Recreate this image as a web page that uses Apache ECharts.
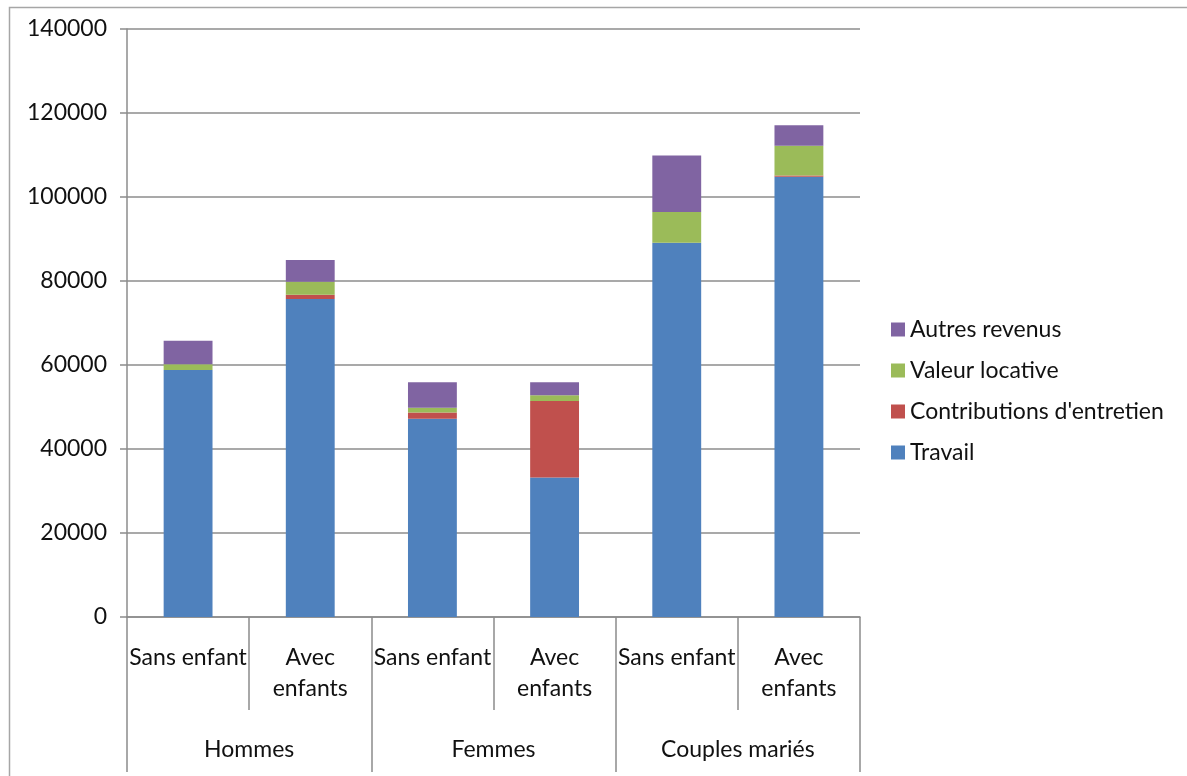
<!DOCTYPE html>
<html>
<head>
<meta charset="utf-8">
<script src="https://cdn.jsdelivr.net/npm/echarts@6/dist/echarts.min.js"></script>
<style>
html,body{margin:0;padding:0;background:#fff;}
#main{width:1187px;height:776px;}
</style>
</head>
<body>
<div id="main"></div>
<script>
const categories = ['Sans enfant', 'Avec\nenfants', 'Sans enfant', 'Avec\nenfants', 'Sans enfant', 'Avec\nenfants'];
const groups = ['Hommes', 'Femmes', 'Couples mariés'];
const travail = [58800, 75700, 47200, 33200, 89100, 104800];
const contributions = [0, 1000, 1500, 18200, 0, 300];
const valeurLocative = [1400, 3100, 1100, 1400, 7300, 7100];
const autresRevenus = [5600, 5200, 6100, 3100, 13500, 4900];
const seriesNames = ['Travail', "Contributions d'entretien", 'Valeur locative', 'Autres revenus'];
const legendOrder = ['Autres revenus', 'Valeur locative', "Contributions d'entretien", 'Travail'];
const colors = ['#4F81BD', '#C0504D', '#9BBB59', '#8064A2'];

const font = 'Lato, "Open Sans", sans-serif';
const gridColor = '#8c8c8c';
const textColor = '#111';
const chart = echarts.init(document.getElementById('main'));
const dataSets = [travail, contributions, valeurLocative, autresRevenus];

chart.setOption({
  animation: false,
  color: colors,
  graphic: [{
    type: 'rect', left: 7, top: 5, shape: { width: 1300, height: 900 },
    style: { fill: 'none', stroke: '#a6a6a6', lineWidth: 1.5 }, silent: true, z: -1
  }],
  grid: { left: 127, right: 327, top: 29, bottom: 159, containLabel: false },
  legend: {
    orient: 'vertical', left: 886, top: 313,
    data: legendOrder,
    itemWidth: 14, itemHeight: 14, itemGap: 18, icon: 'rect',
    textStyle: { fontFamily: font, fontSize: 23, color: textColor, lineHeight: 23 }
  },
  xAxis: [{
    type: 'category', data: categories, position: 'bottom',
    axisLine: { show: true, lineStyle: { color: gridColor, width: 1.5 } },
    axisTick: { show: true, interval: 0, length: 93, lineStyle: { color: gridColor, width: 1.5 } },
    axisLabel: { interval: 0, margin: 25, fontFamily: font, fontSize: 23, lineHeight: 31, color: textColor }
  }, {
    type: 'category', data: groups, position: 'bottom',
    axisLine: { show: false },
    axisTick: { show: true, interval: 0, length: 155, lineStyle: { color: gridColor, width: 1.5 } },
    axisLabel: { interval: 0, margin: 117, fontFamily: font, fontSize: 23, lineHeight: 31, color: textColor }
  }],
  yAxis: {
    type: 'value', min: 0, max: 140000, interval: 20000,
    axisLine: { show: true, lineStyle: { color: gridColor, width: 1.5 } },
    axisTick: { show: true, length: 7, lineStyle: { color: gridColor, width: 1.5 } },
    splitLine: { show: true, lineStyle: { color: gridColor, width: 1.5 } },
    axisLabel: { margin: 20, fontFamily: font, fontSize: 23, color: textColor, formatter: v => String(v) }
  },
  series: seriesNames.map((name, i) => ({
    name: name, type: 'bar', stack: 'total', barWidth: '40%',
    data: dataSets[i],
    itemStyle: { color: colors[i] }
  }))
});
</script>
</body>
</html>
